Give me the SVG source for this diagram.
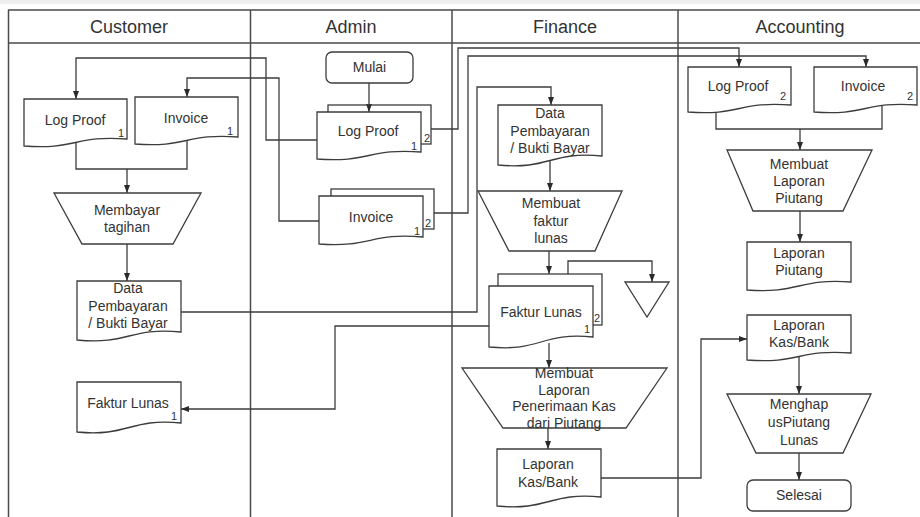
<svg xmlns="http://www.w3.org/2000/svg" width="920" height="517" viewBox="0 0 920 517">
<style>
.lane{stroke:#4a4a4a;stroke-width:1.5;fill:none}
.hdr{font-family:"Liberation Sans",Arial,sans-serif;font-size:18px;fill:#333;text-anchor:middle}
.shape{fill:#fff;stroke:#3c3c3c;stroke-width:1.3}
.back{fill:none;stroke:#3c3c3c;stroke-width:1.3}
.t{font-family:"Liberation Sans",Arial,sans-serif;font-size:14px;fill:#333;text-anchor:middle}
.n{font-family:"Liberation Sans",Arial,sans-serif;font-size:11px;fill:#333;text-anchor:middle}
.c{fill:none;stroke:#3c3c3c;stroke-width:1.3}
.a{marker-end:url(#arr)}
</style>
<defs>
<marker id="arr" markerUnits="userSpaceOnUse" markerWidth="8" markerHeight="8" viewBox="0 0 8 8" refX="8" refY="4" orient="auto">
<path d="M0,1 L8,4 L0,7 Z" fill="#2a2a2a"/>
</marker>
</defs>
<rect x="0" y="0" width="920" height="4" fill="#efefef"/>
<g id="lanes">
<line class="lane" x1="8" y1="10" x2="920" y2="10"/>
<line class="lane" x1="8" y1="43" x2="920" y2="43"/>
<line class="lane" x1="8.5" y1="10" x2="8.5" y2="517"/>
<line class="lane" x1="250.5" y1="10" x2="250.5" y2="517"/>
<line class="lane" x1="452" y1="10" x2="452" y2="517"/>
<line class="lane" x1="678" y1="10" x2="678" y2="517"/>
<text class="hdr" x="129" y="33">Customer</text>
<text class="hdr" x="351" y="33">Admin</text>
<text class="hdr" x="565" y="33">Finance</text>
<text class="hdr" x="800" y="33">Accounting</text>
</g>
<g id="connectors">
<path class="c a" d="M369 83 V112"/>
<path class="c a" d="M317 140 H266 V58 H76 V99"/>
<path class="c a" d="M319 221 H279 V78 H187 V97"/>
<path class="c a" d="M431 129 H458 V48 H739 V67"/>
<path class="c a" d="M434 213 H468 V56 H866 V67"/>
<path class="c" d="M76 143 V169 H187 V141"/>
<path class="c a" d="M127 169 V193"/>
<path class="c a" d="M127 244 V281"/>
<path class="c a" d="M181 312 H477 V87 H551 V105"/>
<path class="c a" d="M550 160 V191"/>
<path class="c a" d="M549 251 V274"/>
<path class="c a" d="M568 274 V261 H652 V282"/>
<path class="c a" d="M489 326 H335 V409 H181"/>
<path class="c a" d="M549 343 V368"/>
<path class="c a" d="M548 428 V449"/>
<path class="c a" d="M601 478 H701 V339 H747"/>
<path class="c" d="M716 108 V129 H882 V106"/>
<path class="c a" d="M800 129 V150"/>
<path class="c a" d="M800 211 V242"/>
<path class="c a" d="M799 356 V394"/>
<path class="c a" d="M799 453 V480"/>
</g>
<g id="cust-logproof">
<path class="shape" d="M24 99 H127 V139 C75.5 135 75.5 150 24 146 Z"/>
<text class="t" x="75" y="125">Log Proof</text>
<text class="n" x="121" y="137">1</text>
</g>
<g id="cust-invoice">
<path class="shape" d="M135 97 H238 V137 C186.5 133 186.5 148 135 144 Z"/>
<text class="t" x="186" y="123">Invoice</text>
<text class="n" x="230" y="135">1</text>
</g>
<g id="cust-membayar">
<polygon class="shape" points="54,193 201,193 173,244 82,244"/>
<text class="t" x="127" y="215">Membayar</text>
<text class="t" x="127" y="232">tagihan</text>
</g>
<g id="cust-datapembayaran">
<path class="shape" d="M77 281 H181 V332 C129 327 129 345 77 340 Z"/>
<text class="t" x="128" y="293">Data</text>
<text class="t" x="128" y="310.5">Pembayaran</text>
<text class="t" x="128" y="328">/ Bukti Bayar</text>
</g>
<g id="cust-fakturlunas">
<path class="shape" d="M77 382 H181 V423 C129 418 129 437 77 432 Z"/>
<text class="t" x="128" y="408">Faktur Lunas</text>
<text class="n" x="174" y="420">1</text>
</g>
<g id="admin-mulai">
<rect class="shape" x="326" y="52" width="87" height="31" rx="6"/>
<text class="t" x="369.5" y="72">Mulai</text>
</g>
<g id="admin-logproof">
<rect class="back" x="328" y="105" width="103" height="39"/>
<path class="shape" d="M317 112 H421 V152 C369 148 369 163 317 159 Z"/>
<text class="t" x="368" y="136">Log Proof</text>
<text class="n" x="414" y="150">1</text>
<text class="n" x="427" y="142">2</text>
</g>
<g id="admin-invoice">
<rect class="back" x="331" y="189" width="103" height="40"/>
<path class="shape" d="M319 196 H423 V237 C371 232 371 248 319 244 Z"/>
<text class="t" x="371" y="222">Invoice</text>
<text class="n" x="417" y="235">1</text>
<text class="n" x="428" y="227">2</text>
</g>
<g id="fin-datapembayaran">
<path class="shape" d="M498 105 H602 V156 C550 151 550 170 498 165 Z"/>
<text class="t" x="550" y="118">Data</text>
<text class="t" x="550" y="135.5">Pembayaran</text>
<text class="t" x="550" y="153">/ Bukti Bayar</text>
</g>
<g id="fin-membuatfaktur">
<polygon class="shape" points="478,191 622,191 595,251 509,251"/>
<text class="t" x="551" y="208">Membuat</text>
<text class="t" x="551" y="226">faktur</text>
<text class="t" x="551" y="243">lunas</text>
</g>
<g id="fin-fakturlunas">
<rect class="back" x="498" y="274" width="104" height="51"/>
<path class="shape" d="M489 286 H593 V337 C541 332 541 352 489 347 Z"/>
<text class="t" x="541" y="317">Faktur Lunas</text>
<text class="n" x="587" y="333">1</text>
<text class="n" x="597" y="322">2</text>
</g>
<g id="fin-offline">
<polygon class="shape" points="625,282 669,282 647,317"/>
</g>
<g id="fin-membuatlaporan">
<polygon class="shape" points="462,368 667,368 626,428 503,428"/>
<text class="t" x="564" y="378">Membuat</text>
<text class="t" x="564" y="394.5">Laporan</text>
<text class="t" x="564" y="411">Penerimaan Kas</text>
<text class="t" x="564" y="427.5">dari Piutang</text>
</g>
<g id="fin-laporankas">
<path class="shape" d="M497 449 H601 V497 C549 492 549 511 497 506 Z"/>
<text class="t" x="548" y="469">Laporan</text>
<text class="t" x="548" y="487">Kas/Bank</text>
</g>
<g id="acc-logproof">
<path class="shape" d="M688 67 H791 V105 C739.5 101 739.5 116 688 112 Z"/>
<text class="t" x="738" y="91">Log Proof</text>
<text class="n" x="783" y="100">2</text>
</g>
<g id="acc-invoice">
<path class="shape" d="M814 67 H917 V105 C865.5 101 865.5 116 814 112 Z"/>
<text class="t" x="863" y="91">Invoice</text>
<text class="n" x="910" y="100">2</text>
</g>
<g id="acc-membuatlaporan">
<polygon class="shape" points="727,150 872,150 843,211 753,211"/>
<text class="t" x="799" y="169">Membuat</text>
<text class="t" x="799" y="186">Laporan</text>
<text class="t" x="799" y="203">Piutang</text>
</g>
<g id="acc-laporanpiutang">
<path class="shape" d="M747 242 H851 V282 C799 278 799 294 747 290 Z"/>
<text class="t" x="799" y="258">Laporan</text>
<text class="t" x="799" y="275">Piutang</text>
</g>
<g id="acc-laporankas">
<path class="shape" d="M747 315 H851 V353 C799 349 799 364 747 360 Z"/>
<text class="t" x="799" y="330">Laporan</text>
<text class="t" x="799" y="347">Kas/Bank</text>
</g>
<g id="acc-menghapus">
<polygon class="shape" points="727,394 871,394 843,453 756,453"/>
<text class="t" x="799" y="409">Menghap</text>
<text class="t" x="799" y="427">usPiutang</text>
<text class="t" x="799" y="445">Lunas</text>
</g>
<g id="acc-selesai">
<rect class="shape" x="747" y="480" width="104" height="31" rx="6"/>
<text class="t" x="799" y="500">Selesai</text>
</g>
</svg>
